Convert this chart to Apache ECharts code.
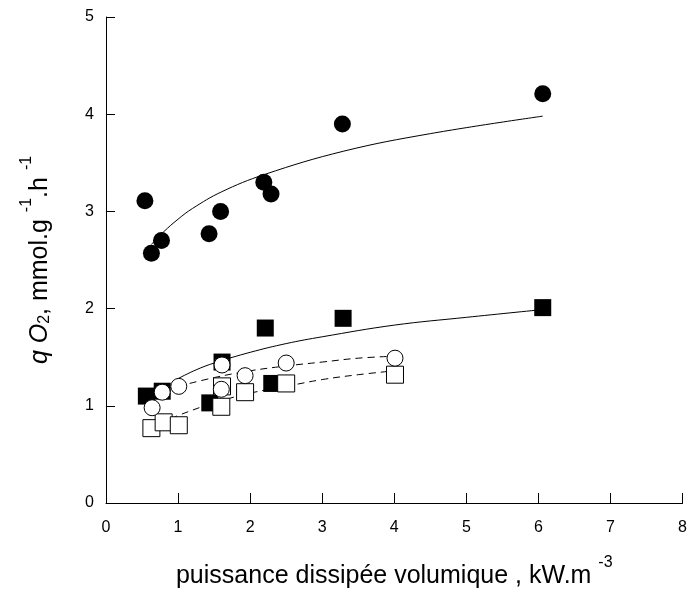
<!DOCTYPE html>
<html>
<head>
<meta charset="utf-8">
<script src="https://cdn.jsdelivr.net/npm/echarts@6/dist/echarts.min.js"></script>
<style>html,body{margin:0;padding:0;background:#fff;}#c{width:690px;height:594px;}</style>
</head>
<body>
<div id="c"></div>
<script>
// ---- data ----
const xTicks = [0, 1, 2, 3, 4, 5, 6, 7, 8];
const yTicks = [0, 1, 2, 3, 4, 5];

const filledCircleX = [0.54, 0.63, 0.77, 1.43, 1.59, 2.19, 2.29, 3.28, 6.06];
const filledCircleY = [3.11, 2.57, 2.70, 2.77, 3.00, 3.30, 3.18, 3.90, 4.21];

const filledSquareX = [0.56, 0.78, 1.44, 1.61, 2.21, 2.30, 3.29, 6.06];
const filledSquareY = [1.10, 1.15, 1.03, 1.45, 1.80, 1.23, 1.90, 2.01];

const openCircleX = [0.64, 0.78, 1.01, 1.60, 1.61, 1.93, 2.50, 4.01];
const openCircleY = [0.98, 1.14, 1.20, 1.17, 1.42, 1.31, 1.44, 1.49];

const openSquareX = [0.63, 0.80, 1.01, 1.60, 1.61, 1.93, 2.50, 4.01];
const openSquareY = [0.77, 0.83, 0.80, 0.99, 1.20, 1.14, 1.23, 1.32];

// fitted curves
const fitCircleX = [0.63, 0.8, 1.0, 1.2, 1.6, 2.2, 3.3, 4.5, 6.06];
const fitCircleY = [2.66, 2.79, 2.92, 3.03, 3.20, 3.38, 3.62, 3.80, 3.98];

const fitSquareX = [1.0, 1.25, 1.5, 2.0, 2.5, 3.0, 4.0, 5.0, 6.06];
const fitSquareY = [1.28, 1.37, 1.44, 1.55, 1.64, 1.71, 1.83, 1.91, 1.99];

const fitOpenCircleX = [1.0, 1.5, 2.0, 2.5, 3.0, 3.5, 4.0];
const fitOpenCircleY = [1.20, 1.29, 1.36, 1.41, 1.45, 1.49, 1.51];

const fitOpenSquareX = [0.9, 1.0, 1.5, 2.0, 2.5, 3.0, 3.5, 4.0];
const fitOpenSquareY = [0.86, 0.90, 1.03, 1.13, 1.20, 1.27, 1.32, 1.36];

const xTitle = '{t|puissance dissipée volumique , kW.m }{sup|-3}';
const yTitle = '{it|q O}{sub|2}{t|, mmol.g }{sup|-1}{t|.h }{sup|-1}';

// ---- chart ----
const zip = (xs, ys) => xs.map((x, i) => [x, ys[i]]);
const FONT = 'Liberation Sans, Arial, sans-serif';

const chart = echarts.init(document.getElementById('c'), null, {renderer: 'canvas'});

const richT = {
  t: {fontSize: 25, fontFamily: FONT, color: '#000', lineHeight: 34, verticalAlign: 'bottom'},
  it: {fontSize: 25, fontFamily: FONT, fontStyle: 'italic', color: '#000', lineHeight: 34, verticalAlign: 'bottom'},
  sup: {fontSize: 16, fontFamily: FONT, color: '#000', lineHeight: 27, verticalAlign: 'top'},
  sub: {fontSize: 16, fontFamily: FONT, color: '#000', lineHeight: 14, verticalAlign: 'bottom'}
};

const lineSeries = (xs, ys, dashed) => ({
  type: 'line', data: zip(xs, ys), smooth: 0.4, symbol: 'none', z: 1,
  lineStyle: {color: '#000', width: 1, type: dashed ? [7, 5] : 'solid'},
  silent: true
});

const scatterSeries = (xs, ys, symbol, filled, size, z) => ({
  type: 'scatter', data: zip(xs, ys), symbol: symbol, symbolSize: size, z: z,
  itemStyle: filled ? {color: '#000', borderColor: '#000', borderWidth: 0, opacity: 1}
                    : {color: '#fff', borderColor: '#000', borderWidth: 1, opacity: 1},
  silent: true
});

chart.setOption({
  animation: false,
  backgroundColor: '#fff',
  grid: {left: 106, right: 6, top: 17, bottom: 80},
  xAxis: {
    type: 'value', min: xTicks[0], max: xTicks[xTicks.length - 1], interval: 1,
    axisLine: {show: true, onZero: false, lineStyle: {color: '#000', width: 1}},
    axisTick: {show: true, inside: true, length: 10, lineStyle: {color: '#000'}},
    axisLabel: {color: '#000', fontSize: 16, fontFamily: FONT, margin: 17},
    splitLine: {show: false},
    name: xTitle, nameLocation: 'middle', nameGap: 52,
    nameTextStyle: {rich: richT}
  },
  yAxis: {
    type: 'value', min: yTicks[0], max: yTicks[yTicks.length - 1], interval: 1,
    axisLine: {show: true, onZero: false, lineStyle: {color: '#000', width: 1}},
    axisTick: {show: true, inside: true, length: 9, lineStyle: {color: '#000'}},
    axisLabel: {color: '#000', fontSize: 16, fontFamily: FONT, margin: 12},
    splitLine: {show: false},
    name: yTitle, nameLocation: 'middle', nameGap: 53, nameRotate: 90,
    nameTextStyle: {rich: richT}
  },
  series: [
    lineSeries(fitCircleX, fitCircleY, false),
    lineSeries(fitSquareX, fitSquareY, false),
    lineSeries(fitOpenCircleX, fitOpenCircleY, true),
    lineSeries(fitOpenSquareX, fitOpenSquareY, true),
    scatterSeries(filledSquareX, filledSquareY, 'rect', true, 17, 3),
    scatterSeries(openSquareX, openSquareY, 'rect', false, 17, 4),
    scatterSeries(openCircleX, openCircleY, 'circle', false, 16, 5),
    scatterSeries(filledCircleX, filledCircleY, 'circle', true, 17, 6)
  ]
});
</script>
</body>
</html>
